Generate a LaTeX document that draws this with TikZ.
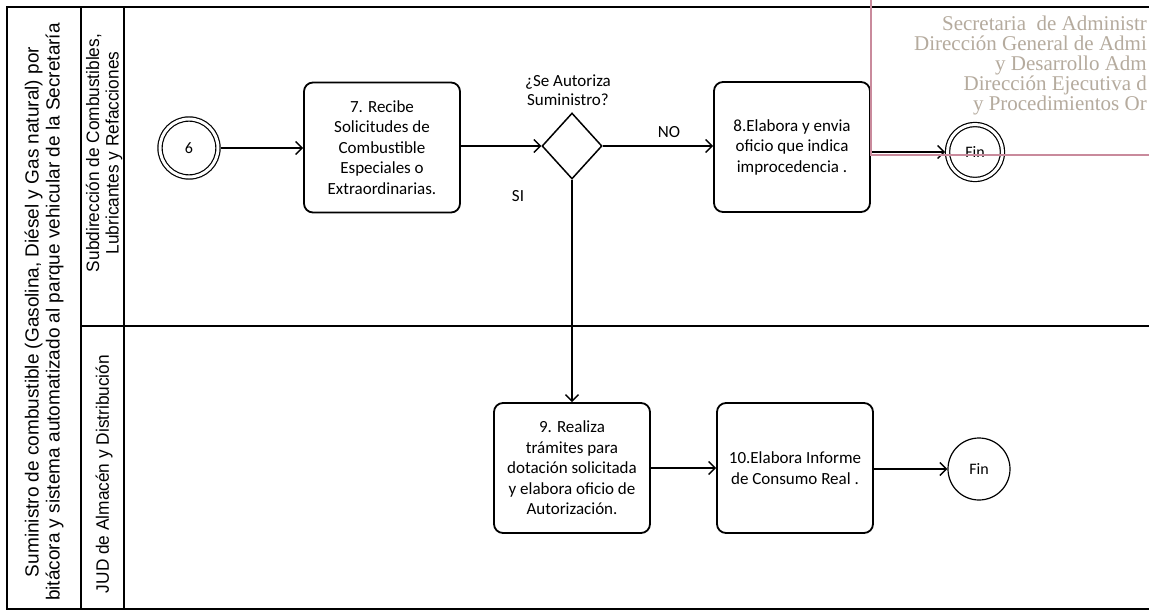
\documentclass[tikz,border=0pt]{standalone}
\usepackage{fontspec}
\setmainfont{Carlito}
\newfontfamily\poolfont{Liberation Sans}
\newfontfamily\lanefont[FakeStretch=0.96]{Liberation Sans}
\newfontfamily\stampfont{Liberation Serif}
\usetikzlibrary{shapes.geometric,arrows.meta}
\definecolor{stampink}{HTML}{C98A9C}
\definecolor{stampgray}{HTML}{B5AB9E}

\begin{document}
\begin{tikzpicture}[x=1pt,y=-1pt,
  task/.style={draw,line width=1.8pt,rounded corners=9pt,minimum width=156pt,
    minimum height=130pt,align=center,inner sep=2pt,
    font=\fontsize{17}{20.5}\selectfont},
  gate/.style={draw,diamond,line width=1.5pt,minimum width=60pt,
    minimum height=66pt,inner sep=0pt},
  endev/.style={draw,circle,line width=1.2pt,inner sep=0pt,
    font=\fontsize{16}{18}\selectfont},
  dbl/.style={double,double distance=3pt,outer sep=2.5pt},
  flow/.style={line width=1.4pt,-{Straight Barb[length=6.5pt,width=13pt]}},
  frame/.style={line width=2pt},
  pooltext/.style={rotate=90,align=center,inner sep=0pt,
    font=\poolfont\fontsize{19}{21}\selectfont},
  lanetext/.style={rotate=90,align=center,inner sep=0pt,
    font=\lanefont\fontsize{18}{19.5}\selectfont},
  tag/.style={font=\fontsize{17}{19}\selectfont,align=center,inner sep=0pt},
  stamp/.style={anchor=base east,text=stampgray,inner sep=0pt,
    font=\stampfont\fontsize{21}{20}\selectfont}
]
\useasboundingbox (0,0) rectangle (1149,615);
\fill[white] (0,0) rectangle (1149,615);

% pool frame and lanes
\draw[frame] (1149,7) -- (7,7) -- (7,609) -- (1149,609);
\draw[frame] (81,7) -- (81,609);
\draw[frame] (124,7) -- (124,609);
\draw[frame] (81,326) -- (1149,326);

% pool and lane titles
\node[pooltext] (pool) at (44,312)
  {Suministro de combustible (Gasolina, Diésel y Gas natural) por\\
   bitácora y sistema automatizado al parque vehicular de la Secretaría};
\node[lanetext] (laneA) at (104,153)
  {Subdirección de Combustibles,\\Lubricantes y Refacciones};
\node[lanetext] (laneB) at (104,474) {JUD de Almacén y Distribución};

% flow elements
\node[endev,dbl,minimum size=58pt] (s6) at (189,148) {6};
\node[task] (b7) at (382,147.5)
  {7. Recibe\\Solicitudes de\\Combustible\\Especiales o\\Extraordinarias.};
\node[gate] (gw) at (572,146) {};
\node[tag] (q) at (568,90) {¿Se Autoriza\\Suministro?};
\node[task] (b8) at (792,147)
  {8.Elabora y envia\\oficio que indica\\improcedencia .};
\node[endev,dbl,minimum size=55pt] (f1) at (975,152) {Fin};
\node[task] (b9) at (572,468)
  {9. Realiza\\trámites para\\dotación solicitada\\y elabora oficio de\\Autorización.};
\node[task] (b10) at (795,468) {10.Elabora Informe\\de Consumo Real .};
\node[endev,minimum size=62pt] (f2) at (979,469) {Fin};

% connectors
\draw[flow] (s6.east) -- (s6.east -| b7.west);
\draw[flow] (b7.east |- gw.west) -- (gw.west);
\draw[flow] (gw.east) -- (gw.east -| b8.west) node[tag,pos=0.6,above=8pt] (no) {NO};
\draw[flow] (gw.south) -- (gw.south |- b9.north);
\node[tag] (si) at (518,196) {SI};
\draw[flow] (b8.east |- f1.west) -- (f1.west);
\draw[flow] (b9.east) -- (b10.west);
\draw[flow] (b10.east |- f2.west) -- (f2.west);

% registration stamp
\draw[stampink,line width=1.5pt] (871,0) -- (871,155) -- (1149,155);
\node[stamp] (st1) at (1147,31) {Secretaria\ \ de Administr};
\node[stamp] (st2) at (1147,51) {Dirección General de Admi};
\node[stamp] (st3) at (1147,71) {y Desarrollo Adm};
\node[stamp] (st4) at (1147,91) {Dirección Ejecutiva d};
\node[stamp] (st5) at (1147,111) {y Procedimientos Or};
\end{tikzpicture}
\end{document}
